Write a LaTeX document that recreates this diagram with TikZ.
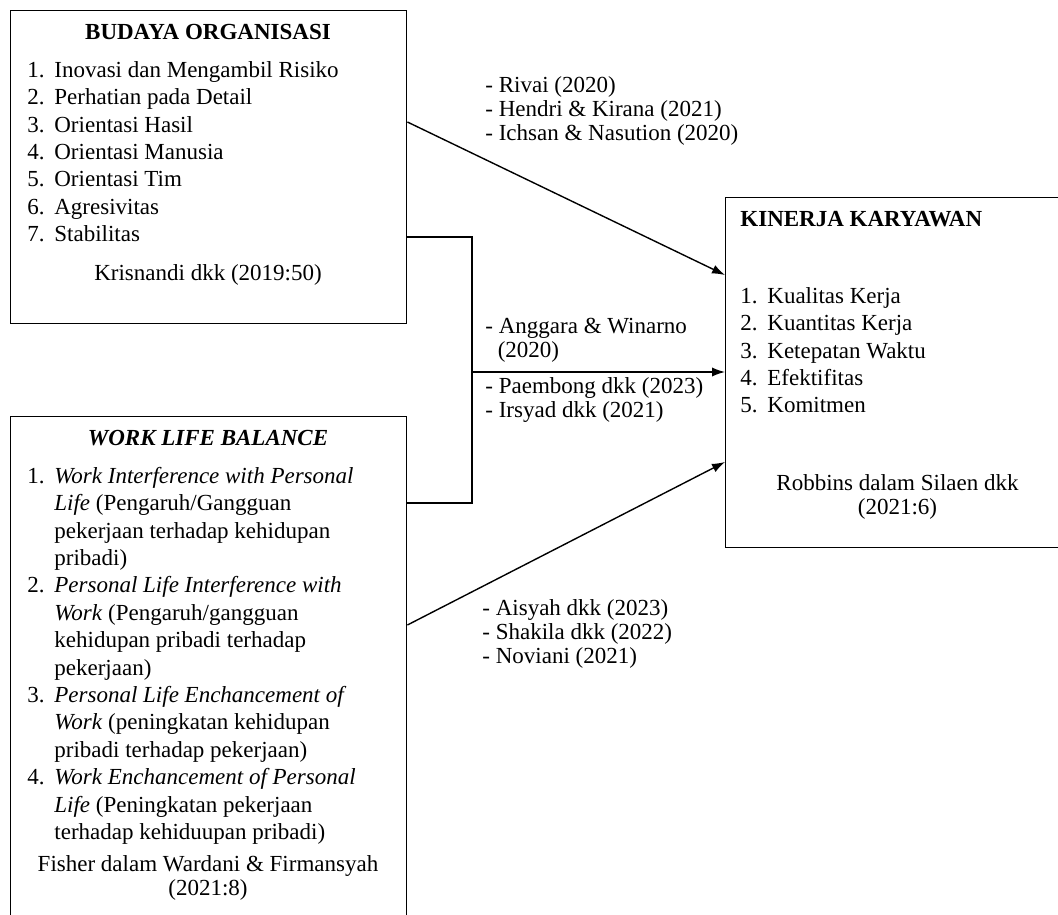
\documentclass[tikz,border=0pt]{standalone}
\usepackage{fontspec}
\setmainfont{Liberation Serif}
\usetikzlibrary{arrows.meta}

\newcommand{\itm}[1]{\makebox[13.5pt][l]{#1}}
\newcommand{\ind}{\hspace*{13.5pt}}

\begin{document}
\begin{tikzpicture}[x=0.5pt,y=-0.5pt,
        box/.style={draw,line width=0.7pt,rectangle,inner sep=0pt,
            anchor=north west},
        txt/.style={inner sep=0pt,align=left,anchor=north west,
            font=\fontsize{11.5}{13.7}\selectfont},
        lbl/.style={inner sep=0pt,align=left,anchor=north west,
            font=\fontsize{11.5}{12}\selectfont},
        arr/.style={line width=0.7pt,-{Latex[length=6.5pt,width=4.6pt]}}]
    \useasboundingbox (0,0) rectangle (1058,914);
    \clip (0,0) rectangle (1058,914);

% boxes
\node[box,minimum width=198pt,minimum height=156.5pt] (budaya) at (10,10) {};
\node[box,minimum width=198pt,minimum height=254.5pt] (wlb) at (10,416) {};
\node[box,minimum width=172.5pt,minimum height=175pt] (kinerja) at (725,197) {};

% budaya organisasi
\node[txt,anchor=base] (budtitle) at (208,40) {\textbf{BUDAYA ORGANISASI}};
\node[txt] (budlist) at (27,57.8) {\strut\itm{1.}Inovasi dan Mengambil Risiko\\
    \itm{2.}Perhatian pada Detail\\ \itm{3.}Orientasi Hasil\\
    \itm{4.}Orientasi Manusia\\ \itm{5.}Orientasi Tim\\
    \itm{6.}Agresivitas\\ \itm{7.}Stabilitas};
\node[txt,anchor=base] (budsrc) at (208,281) {Krisnandi dkk (2019:50)};

% work life balance
\node[txt,anchor=base] (wlbtitle) at (208,445) {\textbf{\textit{WORK LIFE BALANCE}}};
\node[txt] (wlblist) at (27,463.8) {\strut\itm{1.}\textit{Work Interference with Personal}\\
    \ind\textit{Life} (Pengaruh/Gangguan\\
    \ind pekerjaan terhadap kehidupan\\
    \ind pribadi)\\
    \itm{2.}\textit{Personal Life Interference with}\\
    \ind\textit{Work} (Pengaruh/gangguan\\
    \ind kehidupan pribadi terhadap\\
    \ind pekerjaan)\\
    \itm{3.}\textit{Personal Life Enchancement of}\\
    \ind\textit{Work} (peningkatan kehidupan\\
    \ind pribadi terhadap pekerjaan)\\
    \itm{4.}\textit{Work Enchancement of Personal}\\
    \ind\textit{Life} (Peningkatan pekerjaan\\
    \ind terhadap kehiduupan pribadi)};
\node[lbl,align=center,anchor=north] (wlbsrc) at (208,854.2)
    {\strut Fisher dalam Wardani \& Firmansyah\\ (2021:8)};

% kinerja karyawan
\node[txt,anchor=base west] (kintitle) at (740,227) {\textbf{KINERJA KARYAWAN}};
\node[txt] (kinlist) at (740,283.8) {\strut\itm{1.}Kualitas Kerja\\
    \itm{2.}Kuantitas Kerja\\ \itm{3.}Ketepatan Waktu\\
    \itm{4.}Efektifitas\\ \itm{5.}Komitmen};
\node[lbl,align=center,anchor=north] (kinsrc) at (897.5,473.2)
    {\strut Robbins dalam Silaen dkk\\ (2021:6)};

% connectors
\coordinate (jn) at (472,372);
\draw[arr] (budaya.east |- 0,122) -- (kinerja.west |- 0,275);
\draw[line width=0.7pt] (budaya.east |- 0,237) -| (jn) |- (wlb.east |- 0,503);
\draw[arr] (jn) -- (kinerja.west |- jn);
\draw[arr] (wlb.east |- 0,625) -- (kinerja.west |- 0,462);

% references
\node[lbl] (ref1) at (485,75.2) {\strut- Rivai (2020)\\ - Hendri \& Kirana (2021)\\
    - Ichsan \& Nasution (2020)};
\node[lbl] (ref2) at (485,316.2) {\strut- Anggara \& Winarno\\ \hspace*{6.2pt}(2020)};
\node[lbl] (ref3) at (485,376.2) {\strut- Paembong dkk (2023)\\ - Irsyad dkk (2021)};
\node[lbl] (ref4) at (482,598.2) {\strut- Aisyah dkk (2023)\\ - Shakila dkk (2022)\\
    - Noviani (2021)};
\end{tikzpicture}
\end{document}
